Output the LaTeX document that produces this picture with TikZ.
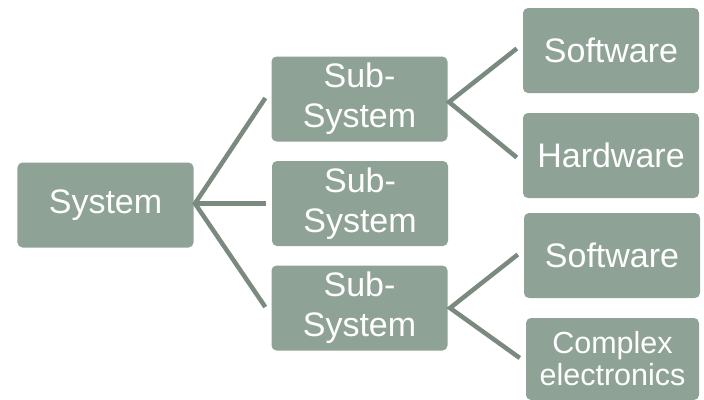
\documentclass[tikz,border=0pt]{standalone}
\usepackage{fontspec}
\setmainfont{Liberation Sans}
\definecolor{boxfill}{RGB}{143,162,150}
\definecolor{linecol}{RGB}{122,138,127}
\begin{document}
\begin{tikzpicture}[x=1bp,y=-1bp,
  box/.style={draw=none,fill=boxfill,rounded corners=5bp,text=white,align=center,
    inner sep=0pt,minimum width=176bp,minimum height=85bp,
    font=\fontsize{34bp}{40bp}\selectfont},
  conn/.style={draw=linecol,line width=4.5bp}]
\useasboundingbox (0,0) rectangle (704,399);
\clip (0,0) rectangle (704,399);
\node[box] (sys) at (105.5,205) {System};
\node[box] (sub1) at (359.5,99) {Sub-\\System};
\node[box] (sub2) at (360,203.5) {Sub-\\System};
\node[box] (sub3) at (359.5,308) {Sub-\\System};
\node[box] (sw1) at (611,50.5) {Software};
\node[box] (hw) at (611,155.5) {Hardware};
\node[box] (sw2) at (612,255.5) {Software};
\node[box,minimum width=173bp,minimum height=82bp,font=\fontsize{30.5bp}{32bp}\selectfont] (ce) at (612.5,359) {Complex\\electronics};
\coordinate (f0) at (195,203.5);
\coordinate (f1) at (449,102);
\coordinate (f3) at (450,308);
\draw[conn] ([xshift=-6bp,yshift=1bp]sub1.west) -- (f0) -- ([xshift=-6bp,yshift=1bp]sub3.west);
\draw[conn] (f0) -- ([xshift=-6bp]sub2.west);
\draw[conn] ([xshift=-6bp,yshift=2bp]sw1.west) -- (f1) -- ([xshift=-6bp,yshift=-2bp]hw.west);
\draw[conn] ([xshift=-6bp,yshift=1bp]sw2.west) -- (f3) -- ([xshift=-6bp,yshift=1bp]ce.west);
\end{tikzpicture}
\end{document}
